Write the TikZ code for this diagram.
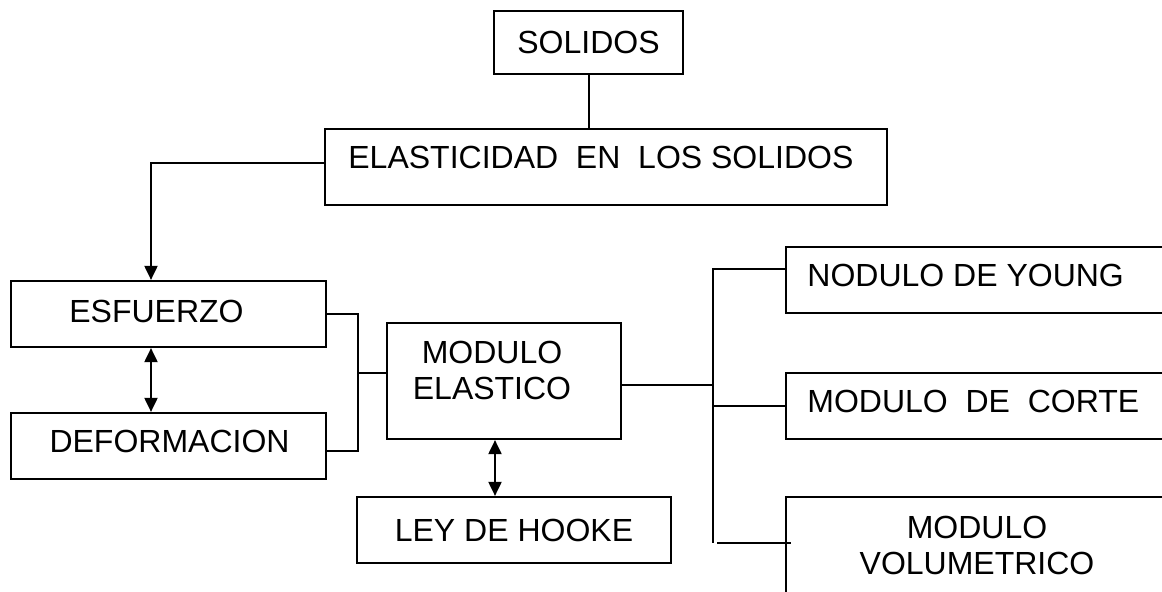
\documentclass[tikz,border=0pt]{standalone}
\usepackage{fontspec}
\setmainfont{Liberation Sans}
\usetikzlibrary{arrows.meta,calc}

\begin{document}
\begin{tikzpicture}[x=0.5pt,y=-0.5pt]

    \tikzset{
      box/.style={
        draw,
        line width=1.1pt,
        inner sep=0pt,
        font=\fontsize{16}{18}\selectfont,
      },
      lbl/.style={
        inner sep=0pt,
        font=\fontsize{16}{18}\selectfont,
      },
      lbltwo/.style={
        lbl,
        align=center,
      },
      link/.style={line width=1pt},
      tip/.style={link,-{Triangle[length=7pt,width=6.5pt]}},
      tips/.style={link,{Triangle[length=7pt,width=6.5pt]}-{Triangle[length=7pt,width=6.5pt]}},
    }
    \useasboundingbox (0,0) rectangle (1162,592);
    \clip (0,0) rectangle (1162,592);

	% boxes
	\node[box,minimum width=94.5pt,minimum height=31.5pt] (solidos) at (588.5,42.5) {SOLIDOS};
	\node[box,minimum width=281pt,minimum height=38pt] (elast) at (606,167) {};
	\node[lbl,anchor=base west] (elasttxt) at (348,169) {ELASTICIDAD~~EN~~LOS SOLIDOS};

	\node[box,minimum width=157.5pt,minimum height=33pt] (esf) at (168.5,314) {};
	\node[lbl,anchor=base west] (esftxt) at (69,323) {ESFUERZO};
	\node[box,minimum width=157.5pt,minimum height=33pt] (defo) at (168.5,446) {};
	\node[lbl,anchor=base] (defotxt) at (169.5,453) {DEFORMACION};

	\node[box,minimum width=117pt,minimum height=58pt] (mod) at (504,381) {};
	\node[lbltwo] (modtxt) at (492,370.5) {MODULO\\ELASTICO};
	\node[box,minimum width=157pt,minimum height=33pt] (ley) at (514,530) {LEY DE HOOKE};

	\node[box,minimum width=191pt,minimum height=33pt] (young) at (977,280) {};
	\node[lbl,anchor=base west] (youngtxt) at (807,287) {NODULO DE YOUNG};
	\node[box,minimum width=191pt,minimum height=33pt] (corte) at (977,406) {};
	\node[lbl,anchor=base west] (cortetxt) at (807,413) {MODULO~~DE~~CORTE};
	\node[box,minimum width=191pt,minimum height=59pt] (volum) at (977,556) {};
	\node[lbltwo] (volumtxt) at (977,545.5) {MODULO\\VOLUMETRICO};

	% connectors
	\coordinate (colL) at (151,0);
	\coordinate (colM) at (495,0);
	\coordinate (brk) at (357,373);
	\coordinate (trunk) at (713,385);
	\coordinate (vb) at (717,543);

	\draw[link] (solidos.south) -- (solidos.south |- elast.north);
	\draw[tip] ($(elast.west)+(0,-4)$) -| (colL |- esf.north);
	\draw[tips] (colL |- esf.south) -- (colL |- defo.north);

	\draw[link] (esf.east) -| ($(defo.east)+(31,5)$) -- ($(defo.east)+(0,5)$);
	\draw[link] (brk) -- (brk -| mod.west);
	\draw[tips] (colM |- mod.south) -- (colM |- ley.north);

	\draw[link] ($(mod.east)+(0,4)$) -- (trunk);
	\draw[link] ($(young.west)+(0,-11)$) -| (trunk |- vb);
	\draw[link] (corte.west) -- (corte.west -| trunk);
	\draw[link] (vb) -- ++(74,0);

\end{tikzpicture}
\end{document}
